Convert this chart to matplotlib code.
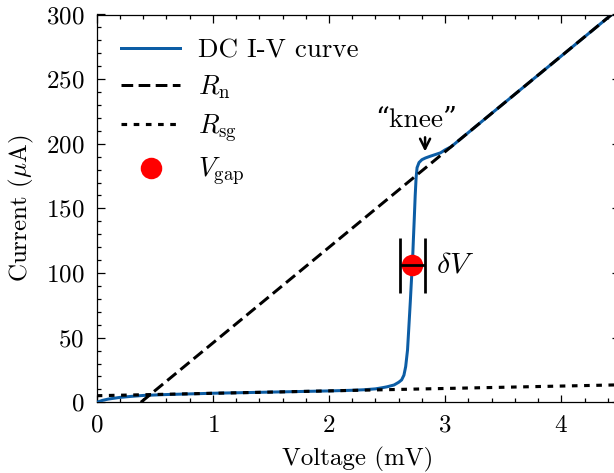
import matplotlib
matplotlib.use("Agg")
import matplotlib.pyplot as plt
from matplotlib.ticker import MultipleLocator, AutoMinorLocator

plt.rcParams['font.family'] = ['cmr10', 'DejaVu Serif']
plt.rcParams['mathtext.fontset'] = 'cm'
plt.rcParams['axes.formatter.use_mathtext'] = True
plt.rcParams['font.size'] = 10

# ---- data ----
iv_voltage = [0.0, 0.05, 0.1, 0.2, 0.3, 0.4, 0.6, 0.8, 1.0, 1.5, 2.0, 2.2, 2.3, 2.4,
              2.46, 2.5, 2.56, 2.6, 2.625, 2.645, 2.66, 2.676, 2.686, 2.700, 2.710,
              2.718, 2.726, 2.734, 2.742, 2.750, 2.758, 2.775, 2.80, 2.83, 2.87,
              2.92, 2.96, 3.0, 3.05, 3.1, 3.2, 3.6, 4.0, 4.5]
iv_current = [0.0, 1.5, 2.5, 3.8, 4.6, 5.3, 6.0, 6.5, 7.0, 7.9, 8.8, 9.3, 9.7, 10.4,
              11.3, 12.0, 13.4, 15.5, 17.3, 21.0, 27.6, 40.5, 56.0, 78.0, 95.0,
              107.0, 125.0, 142.0, 160.0, 174.0, 181.5, 185.5, 187.7, 189.0, 190.3,
              191.8, 193.0, 195.3, 197.6, 201.3, 208.7, 238.3, 267.9, 304.9]

rn_voltage = [0.38, 4.5]
rn_current = [0.0, 304.9]

rsg_voltage = [0.0, 4.5]
rsg_current = [5.1, 13.5]

v_gap = 2.717
i_gap = 106.6
delta_v = 0.108

knee_tip = (2.827, 194.0)
knee_tail = (2.827, 205.0)
knee_text = (2.75, 218.5)

# ---- figure ----
fig = plt.figure(figsize=(614 / 180, 473 / 180), dpi=180)
ax = fig.add_axes([96.7 / 614, 1 - 402.3 / 473, (619.4 - 96.7) / 614, (402.3 - 14.5) / 473])

ax.plot(iv_voltage, iv_current, color='#0C5DA5', lw=1.2, label='DC I-V curve', zorder=3)
ax.plot(rn_voltage, rn_current, color='k', lw=1.2, linestyle=(0, (3.9, 1.8)),
        label=r'$R_\mathrm{n}$', zorder=4)
ax.plot(rsg_voltage, rsg_current, color='k', lw=1.25, linestyle=(0, (1.8, 2.1)),
        label=r'$R_\mathrm{sg}$', zorder=4)
ax.plot([v_gap], [i_gap], 'o', color='red', markersize=7.6, linestyle='none',
        label=r'$V_\mathrm{gap}$', zorder=5)
ax.errorbar([v_gap], [i_gap], xerr=[delta_v], fmt='none', ecolor='k',
            elinewidth=1.1, capsize=11, capthick=1.1, zorder=6)

ax.text(v_gap + delta_v + 0.095, i_gap, r'$\delta V$', ha='left', va='center', fontsize=12)
ax.annotate('', xy=knee_tip, xytext=knee_tail,
            arrowprops=dict(arrowstyle='->', lw=1.0, color='k',
                            shrinkA=0, shrinkB=0))
ax.text(knee_text[0], knee_text[1], '\u201cknee\u201d', ha='center', va='center', fontsize=11)

ax.set_xlim(0, 4.5)
ax.set_ylim(0, 300)
ax.xaxis.set_major_locator(MultipleLocator(1))
ax.xaxis.set_minor_locator(AutoMinorLocator(5))
ax.yaxis.set_major_locator(MultipleLocator(50))
ax.yaxis.set_minor_locator(AutoMinorLocator(5))
ax.tick_params(which='both', direction='in', top=True, right=True, width=0.5)
ax.tick_params(which='major', length=3, pad=5)
ax.tick_params(which='minor', length=1.5)
for s in ax.spines.values():
    s.set_linewidth(0.5)

ax.set_xlabel('Voltage (mV)')
ax.set_ylabel(r'Current ($\mu$A)')

ax.legend(loc='upper left', frameon=False, handlelength=2.2, fontsize=10.8,
          labelspacing=0.41, handletextpad=0.65)

fig.savefig('out.png', dpi=180)
